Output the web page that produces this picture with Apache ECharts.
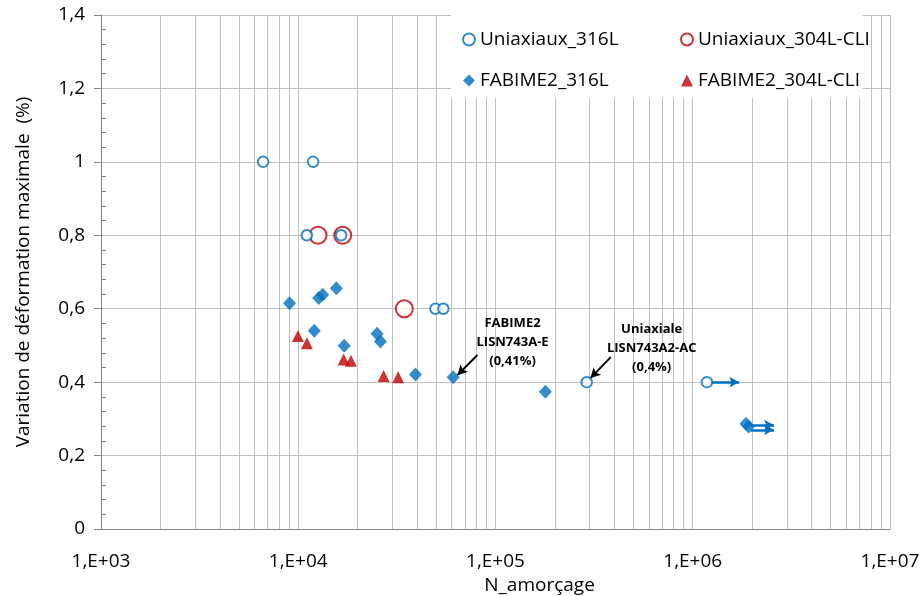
<!DOCTYPE html>
<html><head><meta charset="utf-8">
<script src="https://cdn.jsdelivr.net/npm/echarts@6/dist/echarts.min.js"></script>
<style>html,body{margin:0;padding:0;background:#fff}#c{width:924px;height:596px}</style>
</head><body><div id="c"></div>
<script>
// ---- data ----
var uni316 = [[6640,1.0],[11900,1.0],[11050,0.8],[16500,0.8],[49600,0.6],[54400,0.6],[290000,0.4],[1180000,0.4]];
var uni304 = [[12600,0.8],[16800,0.8],[34500,0.6]];
var fab316 = [[9030,0.615],[12700,0.629],[13300,0.638],[15600,0.656],[12060,0.54],[17100,0.499],[25100,0.532],[26100,0.511],[39300,0.421],[61000,0.413],[179000,0.374],[1860000,0.287],[1920000,0.279]];
var fab304 = [[9960,0.526],[11070,0.506],[16980,0.462],[18500,0.458],[27100,0.417],[32100,0.413]];
var seriesNames = ['Uniaxiaux_316L','Uniaxiaux_304L-CLI','FABIME2_316L','FABIME2_304L-CLI'];
var xDecades = [1e3,1e4,1e5,1e6,1e7];
// runout arrows (start, end) and annotation arrows
var runouts = [[[1240000,0.4],[1720000,0.4]],[[1970000,0.283],[2580000,0.283]],[[1970000,0.27],[2580000,0.27]]];
var noteArrows = [[[81000,0.474],[64100,0.419]],[[384000,0.468],[303000,0.411]]];
var notes = [{coord:[122000,0.509], text:'FABIME2\nLISN743A-E\n(0,41%)'},{coord:[619000,0.493], text:'Uniaxiale\nLISN743A2-AC\n(0,4%)'}];

var FONT = '"Open Sans", sans-serif';
var BLUE = '#0070C0', RED = '#C00000';

// minor vertical grid lines 2..9 per decade
var minorX = [];
for (var d = 0; d < xDecades.length - 1; d++) for (var k = 2; k <= 9; k++) minorX.push({xAxis: xDecades[d]*k});

var legendText = {fontFamily:FONT,fontSize:19,color:'#000'};
var chart = echarts.init(document.getElementById('c'));
chart.setOption({
  animation:false,
  textStyle:{fontFamily:FONT},
  grid:{left:101,right:34,top:15,bottom:67,containLabel:false,outerBoundsMode:'none'},
  legend:[
    {data:[seriesNames[0],seriesNames[2]], orient:'vertical', left:451, top:15, z:10,
     backgroundColor:'#fff', padding:[15,244,8,11],
     itemGap:22, itemWidth:12, itemHeight:12, textStyle:legendText},
    {data:[seriesNames[1],seriesNames[3]], orient:'vertical', left:669, top:15, z:11,
     padding:[15,11,8,11],
     itemGap:22, itemWidth:12, itemHeight:12, textStyle:legendText}
  ],
  xAxis:{type:'log', logBase:10, min:1e3, max:1e7,
    name:'N_amorçage', nameLocation:'middle', nameGap:46,
    nameTextStyle:{fontFamily:FONT,fontSize:19,color:'#000',padding:[0,0,0,88]},
    axisLine:{lineStyle:{color:'#868686'}},
    axisTick:{show:false},
    axisLabel:{fontFamily:FONT,fontSize:19,color:'#000',margin:23,
      formatter:function(v){return '1,E+0'+Math.round(Math.log10(v));}},
    splitLine:{show:true,lineStyle:{color:'#BFBFBF',width:1}}
  },
  yAxis:[{type:'value', min:0, max:1.4, interval:0.2,
    name:'Variation de déformation maximale  (%)', nameLocation:'middle', nameGap:68,
    nameTextStyle:{fontFamily:FONT,fontSize:19,color:'#000'},
    axisLine:{show:true,lineStyle:{color:'#868686'}},
    axisTick:{show:true,length:7,lineStyle:{color:'#868686'}},
    axisLabel:{fontFamily:FONT,fontSize:19,color:'#000',margin:16,
      formatter:function(v){return String(+v.toFixed(1)).replace('.',',');}},
    splitLine:{show:true,lineStyle:{color:'#BFBFBF',width:1}}
  },{type:'value', min:0, max:1.4, interval:0.2, position:'left',
    axisLine:{show:false}, axisLabel:{show:false}, splitLine:{show:false},
    axisTick:{show:true,inside:true,length:0},
    minorTick:{show:true,splitNumber:5,length:5,lineStyle:{color:'#868686'}}
  }],
  series:[
    {name:'grid', type:'scatter', data:[], silent:true, z:1,
     markLine:{silent:true, z:1, symbol:['none','none'], label:{show:false},
       lineStyle:{color:'#BFBFBF',width:1,type:'solid'}, data:minorX}},
    {name:seriesNames[0], type:'scatter', data:uni316, symbol:'emptyCircle', symbolSize:10.5,
     itemStyle:{color:BLUE,borderColor:BLUE,borderWidth:2.5}, z:5,
     markLine:{silent:true, symbol:['none','arrow'], symbolSize:[8,10], label:{show:false},
       lineStyle:{color:BLUE,width:2.5,type:'solid'},
       data:runouts.map(function(r){return [{coord:r[0]},{coord:r[1]}];})}},
    {name:seriesNames[1], type:'scatter', data:uni304, symbol:'emptyCircle', symbolSize:17,
     itemStyle:{color:RED,borderColor:RED,borderWidth:3.5}, z:4},
    {name:seriesNames[2], type:'scatter', data:fab316, symbol:'diamond', symbolSize:[13,14],
     itemStyle:{color:BLUE}, z:6,
     markLine:{silent:true, symbol:['none','arrow'], symbolSize:[8,10], label:{show:false},
       lineStyle:{color:'#000',width:2,type:'solid'},
       data:noteArrows.map(function(r){return [{coord:r[0]},{coord:r[1]}];})},
     markPoint:{silent:true, symbol:'circle', symbolSize:0,
       label:{show:true, position:'inside', fontFamily:FONT, fontSize:13, fontWeight:'bold', color:'#000', lineHeight:19, align:'center',
         formatter:function(p){return p.data.text;}},
       data:notes.map(function(n){return {coord:n.coord, text:n.text};})}},
    {name:seriesNames[3], type:'scatter', data:fab304, symbol:'triangle', symbolSize:[12,12],
     itemStyle:{color:RED}, z:6}
  ]
});
</script></body></html>
